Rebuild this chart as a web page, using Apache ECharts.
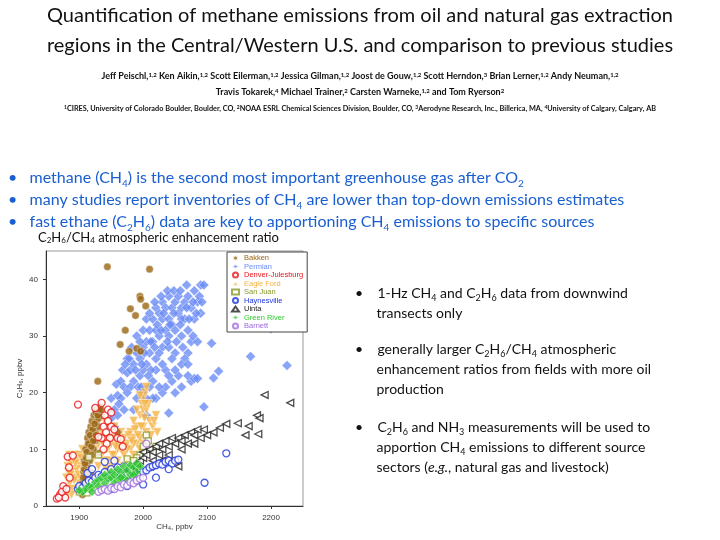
<!DOCTYPE html>
<html><head><meta charset="utf-8">
<script src="https://cdn.jsdelivr.net/npm/echarts@6/dist/echarts.min.js"></script>
<style>html,body{margin:0;padding:0;background:#fff}#c{width:720px;height:540px}</style>
</head><body><div id="c"></div>
<script>
const xTicks=[1900,2000,2100,2200];
const yTicks=[0,10,20,30,40];
const seriesNames=['Bakken','Permian','Denver-Julesburg','Eagle Ford','San Juan','Haynesville','Uinta','Green River','Barnett'];
const bakken=[[1944,42.2],[2010,41.8],[1995,37],[1996,36.5],[2004,35.3],[1980,34.8],[1988,33.6],[1972,31],[1964,28.5],[1978,27.3],[1990,27.8],[1996,27.3],[1929,22],[1960,13],[1930,9.3],[1905,2],[1905,4],[1907,6],[1908,8],[1910,5],[1910,10],[1912,7],[1913,12],[1915,9],[1915,13],[1917,11],[1918,14],[1920,12],[1920,15],[1922,10],[1923,16],[1925,13],[1927,15],[1928,17],[1930,14],[1932,16],[1933,17.5],[1935,16],[1912,3],[1918,6],[1915,4],[1908,6.5],[1912,9.5],[1920,9],[1925,11.5],[1930,15.5],[1910,3],[1906,5],[1914,11],[1916,8],[1919,10.5],[1921,13.5],[1924,14.5],[1926,16.5],[1929,16],[1931,17],[1934,17],[1909,7.5],[1911,8.5],[1917,12.5],[1922,11.5],[1926,12.5],[1913,6],[1907,3.5]];
const permian=[[1945,14],[1950,15.5],[1955,17],[1950,19],[1960,19.5],[1958,21.5],[1965,22],[1968,24],[1970,21],[1975,23.5],[1975,26],[1980,24],[1982,28],[1985,25],[1985,22],[1990,27],[1990,30],[1995,26],[1995,23],[2000,28],[2000,31],[2005,25],[2005,29],[2005,33],[2010,27],[2010,31],[2015,29],[2015,33],[2015,22],[2020,31],[2020,35],[2020,26],[2025,30],[2025,34],[2030,33],[2030,28],[2030,36],[2035,31],[2035,35],[2040,33],[2040,30],[2040,37],[2045,35],[2045,32],[2050,36],[2050,27],[2055,34],[2055,37],[2060,35],[2060,30],[2065,36],[2065,33],[2070,37],[2070,27],[2075,35],[2080,38],[2080,33],[2085,36],[2090,39],[2095,39],[2075,22],[2060,21],[2070,23],[2080,22.5],[2050,20],[2030,20],[2020,19],[2000,20],[1990,19],[1985,17],[2005,16],[2020,24],[2045,26],[2035,24],[2000,24],[1970,17],[1960,16],[2010,21],[2055,23],[2085,22.5],[2200,31.3],[2168,26.4],[2225,24.8],[2107,28.7],[2118,23.8],[2110,22.6],[2095,17.5],[2040,16.4],[2012,24],[2025,27],[2040,28],[2050,31],[2060,33],[2070,31],[2075,29],[1995,29],[1980,21],[1965,19],[2010,34],[2030,25],[2045,22],[2065,26],[2085,29],[2090,34],[1978,26],[1988,24],[1992,21],[1998,25],[2002,27],[2008,23],[2012,29],[2018,28],[2022,32],[2028,31],[2032,34],[2038,29],[2042,32],[2048,34],[2052,29],[2058,32],[2062,28],[2068,35],[2072,33],[2078,30],[2083,34],[2088,37],[2092,36],[2035,21],[2040,23],[2050,24],[2060,25],[2070,25],[2015,19],[2025,21],[2005,19],[1997,21],[1975,20],[1955,14],[1962,18],[1972,25],[2018,36],[2028,37],[2038,38],[2048,38],[2058,38],[2068,39],[2078,36]];
const denver=[[1898,17.9],[1935,18.2],[1925,17.3],[1882,8.7],[1890,8.9],[1884,6.8],[1865,1.3],[1870,2],[1875,3.5],[1935,12],[1938,14],[1940,16],[1942,13],[1945,15],[1945,17],[1948,12],[1950,14],[1950,16.5],[1943,11],[1938,10],[1955,13.5],[1960,12],[1965,11.8],[1968,10.5],[1930,12.2],[1878,1.5],[1868,1.5],[1873,2.5],[1880,3],[1885,5]];
const eagleFord=[[1878,3],[1880,5],[1882,7],[1885,4],[1885,9],[1890,3],[1890,6],[1893,9],[1895,5],[1897,8],[1900,4],[1902,7],[1905,10],[1910,6],[1912,9],[1915,11],[1920,8],[1925,10],[1930,7],[1930,11],[1935,9],[1940,8],[1940,12],[1945,10],[1950,7],[1950,11],[1955,9],[1955,12],[1960,8],[1960,11],[1965,10],[1965,13],[1970,9],[1970,12],[1975,8],[1975,11],[1980,10],[1980,13],[1985,9],[1985,12],[1990,11],[1990,14],[1995,10],[1995,16],[1998,18],[2000,19],[2003,20],[2005,21],[1990,17],[1985,15],[2000,14],[2005,13],[2010,15],[2015,14],[2020,16],[2022,13],[2000,11],[1935,13],[1940,15],[1945,14],[1955,14],[1930,16],[1898,2.5],[1888,2],[1920,5],[1948,6],[1970,7],[1883,6],[1887,7.5],[1892,4.5],[1896,6.5],[1900,9],[1945,8],[1960,10],[1975,10],[1985,11],[1995,12],[2000,17],[2005,17],[1880,2],[1886,5.5],[1894,7.5],[1899,5.5],[1903,8.5],[1907,5],[1932,9],[1937,11],[1942,10],[1947,12],[1952,9],[1957,10.5],[1962,12.5],[1967,11],[1972,10.5],[1977,12.5],[1982,11.5],[1987,13.5],[1992,12.5],[1997,14],[2002,15.5],[2008,18],[2012,12.5],[2017,15],[1942,6.5],[1958,7.5],[1980,8],[1995,19.5],[2003,18]];
const sanJuan=[[2005,12.5],[2008,11.5],[2000,10.5],[1995,9],[1990,8.5],[1985,8],[2010,10],[2020,10.5],[1975,8.3],[1930,9],[1915,8.6],[1900,2.5],[1912,2.3]];
const haynesville=[[1898,3],[1900,3.5],[1905,3.2],[1910,4],[1915,4.5],[1920,4.3],[1925,5],[1930,5.5],[1935,5.2],[1940,6],[1945,5],[1950,6.5],[1955,5.5],[1960,6.8],[1965,6],[1970,7],[1975,5.5],[1980,6.5],[1985,5],[1990,4.5],[1995,5.5],[2000,6],[2005,6.3],[2010,6.8],[2015,7],[2020,7.2],[2025,7.5],[2030,7.3],[2035,7.8],[2040,8],[2045,7.5],[2050,8],[2055,8.2],[2130,9.3],[2096,4.1],[1913,5.8],[1920,6.5],[1955,8],[1950,3],[1975,3.5],[2000,3.8],[1940,7.8],[2020,5],[2040,6.5]];
const uinta=[[1965,5],[1970,5.5],[1975,6],[1980,6.5],[1985,7],[1990,7.5],[1995,8],[2000,8.5],[2000,9.5],[2005,9],[2010,10],[2015,9.5],[2020,10.5],[2025,11],[2025,9],[2030,10],[2035,11.5],[2040,10.5],[2045,12],[2050,11],[2050,8],[2055,7],[2055,12],[2060,11.5],[2065,12.5],[2070,11],[2075,13],[2080,12.5],[2085,13.5],[2090,12],[2095,13.5],[2100,12.5],[2110,13],[2120,13.8],[2130,14.5],[2148,14.6],[2160,12.5],[2165,14.1],[2178,16],[2182,15.5],[2180,12.7],[2190,19.6],[2230,18.2],[2010,7],[2030,8],[1990,5],[2040,9],[2060,10],[2080,11],[2015,8],[1985,6]];
const greenRiver=[[1905,2.5],[1910,3],[1915,3.5],[1920,3.3],[1925,4.2],[1930,4.5],[1930,3.5],[1935,5],[1940,5.5],[1940,4],[1945,4.8],[1950,6],[1950,5],[1955,5.5],[1960,6.5],[1960,4.5],[1965,6],[1970,7],[1970,5],[1975,6.3],[1980,7.2],[1980,5.5],[1985,6.8],[1990,7.5],[1990,6],[1995,7],[1900,2.8],[1920,2.5],[1945,3],[1955,4],[1965,5],[1975,4.5],[1985,5.5]];
const barnett=[[1930,2.5],[1935,2.8],[1940,3],[1945,2.7],[1950,3.2],[1955,3],[1960,3.5],[1965,3.3],[1970,3.8],[1975,3.6],[1980,4.2],[1985,4],[1990,4.5],[1995,4.8],[2000,5],[2005,11]];

const colors={'Bakken':'#9a6512','Permian':'#6b8cf5','Denver-Julesburg':'#e8141c','Eagle Ford':'#f5b347','San Juan':'#8a9a2a','Haynesville':'#1c34e0','Uinta':'#222222','Green River':'#2ec82e','Barnett':'#a06ae0'};
function mk(name,data,symbol,hollow,rot,size){
  const c=colors[name];
  return {name,type:'scatter',data,symbol,symbolRotate:rot||0,symbolSize:size||7,
    itemStyle:hollow?{color:'#fff',borderColor:c,borderWidth:1.3}:{color:c,borderColor:'#fff',borderWidth:0.5}};
}
const series=[
  mk('Permian',permian,'diamond',false,0,10),
  mk('Eagle Ford',eagleFord,'triangle',false,180,9),
  mk('Bakken',bakken,'circle',false,0,7.5),
  mk('Denver-Julesburg',denver,'circle',true,0,7),
  mk('San Juan',sanJuan,'rect',true,0,6),
  mk('Uinta',uinta,'triangle',true,90,7),
  mk('Haynesville',haynesville,'circle',true,0,7),
  mk('Green River',greenRiver,'diamond',false,0,9),
  mk('Barnett',barnett,'circle',true,0,7)
];
const FONT='Lato, "Open Sans", sans-serif';
const chart=echarts.init(document.getElementById('c'));
const axLbl={color:'#333',fontSize:8,fontFamily:'Arial',formatter:v=>String(v)};
chart.setOption({
  animation:false,
  grid:{left:46,right:417,top:251,bottom:34,show:true,borderColor:'#999',borderWidth:1},
  xAxis:{type:'value',min:1848,max:2250,
    axisLabel:Object.assign({customValues:xTicks},axLbl),
    axisTick:{customValues:xTicks,length:3},
    axisLine:{lineStyle:{color:'#333'}},splitLine:{show:false},
    name:'CH\u2084, ppbv',nameLocation:'middle',nameGap:12,nameTextStyle:{fontSize:8,color:'#333',fontFamily:'Arial'}},
  yAxis:{type:'value',min:0,max:45,
    axisLabel:Object.assign({customValues:yTicks},axLbl),
    axisTick:{customValues:yTicks,length:3},
    axisLine:{lineStyle:{color:'#333'}},splitLine:{show:false},
    name:'C\u2082H\u2086, ppbv',nameLocation:'middle',nameGap:22,nameTextStyle:{fontSize:8,color:'#333',fontFamily:'Arial'}},
  legend:{orient:'vertical',left:227,top:252,itemGap:0.5,itemWidth:7,itemHeight:5,padding:[2,4,2,4],
    borderColor:'#444',borderWidth:1,backgroundColor:'#fff',
    data:seriesNames.map(n=>({name:n,textStyle:{color:colors[n],fontSize:7.5,fontFamily:'Arial'}}))},
  series,
  graphic:[
    {type:'text',left:'center',top:6,style:{text:'Quantification of methane emissions from oil and natural gas extraction',font:'20px '+FONT,fill:'#111'}},
    {type:'text',left:'center',top:36,style:{text:'regions in the Central/Western U.S. and comparison to previous studies',font:'20px '+FONT,fill:'#111'}},
    {type:'text',left:'center',top:72,style:{rich:{b:{fontSize:9,fontWeight:'bold',fontFamily:FONT,fill:'#111'},s:{fontSize:6,fontWeight:'bold',fontFamily:FONT,verticalAlign:'top',fill:'#111'}},
      text:'{b|Jeff Peischl,}{s|1,2}{b| Ken Aikin,}{s|1,2}{b| Scott Eilerman,}{s|1,2}{b| Jessica Gilman,}{s|1,2}{b| Joost de Gouw,}{s|1,2}{b| Scott Herndon,}{s|3}{b| Brian Lerner,}{s|1,2}{b| Andy Neuman,}{s|1,2}'}},
    {type:'text',left:'center',top:88,style:{rich:{b:{fontSize:9,fontWeight:'bold',fontFamily:FONT,fill:'#111'},s:{fontSize:6,fontWeight:'bold',fontFamily:FONT,verticalAlign:'top',fill:'#111'}},
      text:'{b|Travis Tokarek,}{s|4}{b| Michael Trainer,}{s|2}{b| Carsten Warneke,}{s|1,2}{b| and Tom Ryerson}{s|2}'}},
    {type:'text',left:'center',top:105,style:{rich:{b:{fontSize:7.3,fontWeight:'bold',fontFamily:FONT,fill:'#111'},s:{fontSize:5,fontWeight:'bold',fontFamily:FONT,verticalAlign:'top',fill:'#111'}},
      text:'{s|1}{b|CIRES, University of Colorado Boulder, Boulder, CO, }{s|2}{b|NOAA ESRL Chemical Sciences Division, Boulder, CO, }{s|3}{b|Aerodyne Research, Inc., Billerica, MA, }{s|4}{b|University of Calgary, Calgary, AB}'}},
    {type:'text',left:8,top:170,style:{rich:{t:{fontSize:16,fontFamily:FONT,fill:'#1a5fd0',lineHeight:22},u:{fontSize:10,fontFamily:FONT,fill:'#1a5fd0',verticalAlign:'bottom',lineHeight:22}},
      text:'{t|•   methane (CH}{u|4}{t|) is the second most important greenhouse gas after CO}{u|2}\n{t|•   many studies report inventories of CH}{u|4}{t| are lower than top-down emissions estimates}\n{t|•   fast ethane (C}{u|2}{t|H}{u|6}{t|) data are key to apportioning CH}{u|4}{t| emissions to specific sources}'}},
    {type:'text',left:38,top:231,style:{rich:{t:{fontSize:13,fontFamily:FONT,fill:'#111'},u:{fontSize:8,fontFamily:FONT,fill:'#111',verticalAlign:'bottom'}},
      text:'{t|C}{u|2}{t|H}{u|6}{t|/CH}{u|4}{t| atmospheric enhancement ratio}'}},
    ...[[286,'{t|•    1-Hz CH}{u|4}{t| and C}{u|2}{t|H}{u|6}{t| data from downwind}\n{t|      transects only}'],
        [342,'{t|•    generally larger C}{u|2}{t|H}{u|6}{t|/CH}{u|4}{t| atmospheric}\n{t|      enhancement ratios from fields with more oil}\n{t|      production}'],
        [420,'{t|•    C}{u|2}{t|H}{u|6}{t| and NH}{u|3}{t| measurements will be used to}\n{t|      apportion CH}{u|4}{t| emissions to different source}\n{t|      sectors (}{i|e.g.}{t|, natural gas and livestock)}']].map(([top,text])=>(
      {type:'text',left:355,top,style:{rich:{t:{fontSize:14,fontFamily:FONT,fill:'#111',lineHeight:20},u:{fontSize:9,fontFamily:FONT,fill:'#111',verticalAlign:'bottom',lineHeight:20},i:{fontSize:14,fontFamily:FONT,fontStyle:'italic',fill:'#111',lineHeight:20}},text}}))
  ]
});
</script></body></html>
